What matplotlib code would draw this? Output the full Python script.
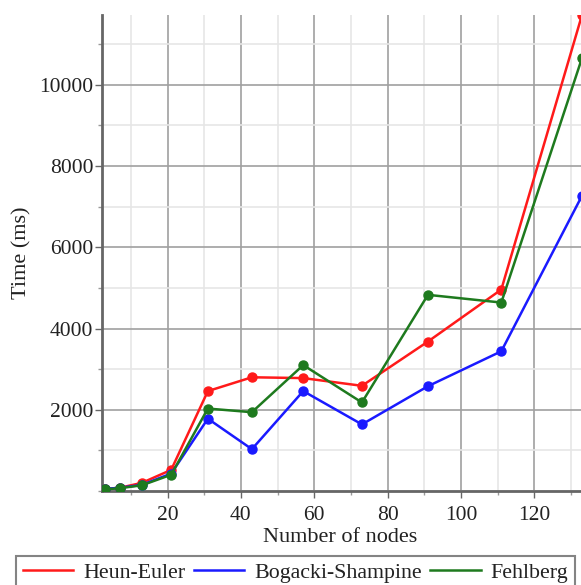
import matplotlib
matplotlib.use("Agg")
import matplotlib.pyplot as plt
from matplotlib.ticker import MultipleLocator
from matplotlib.lines import Line2D

nodes = [3, 7, 13, 21, 31, 43, 57, 73, 91, 111, 133]
heun_euler = [50, 80, 200, 520, 2460, 2800, 2780, 2590, 3680, 4960, 11720]
bogacki_shampine = [50, 80, 150, 430, 1780, 1030, 2460, 1640, 2580, 3440, 7270]
fehlberg = [40, 70, 140, 400, 2030, 1940, 3100, 2180, 4830, 4640, 10660]

series_names = ["Heun-Euler", "Bogacki-Shampine", "Fehlberg"]
colors = ["#ff1a1a", "#1a1aff", "#1e7a1e"]

plt.rcParams["font.family"] = ["Liberation Serif", "DejaVu Serif"]

W, H = 581, 585
fig = plt.figure(figsize=(W / 100, H / 100), dpi=100)
ax_w = 582 - 101.5
ax_h = 491 - 15
ax = fig.add_axes([101.5 / W, 94 / H, ax_w / W, ax_h / H])

for vals, name, c in zip([heun_euler, bogacki_shampine, fehlberg], series_names, colors):
    ax.plot(nodes, vals, color=c, lw=1.8, marker="o", ms=6.5, label=name,
            clip_on=True, zorder=3)

ax.set_xlim(2, 133)
ax.set_ylim(0, 11720)
ax.xaxis.set_minor_locator(MultipleLocator(10))
ax.yaxis.set_minor_locator(MultipleLocator(1000))
ax.set_xticks([20, 40, 60, 80, 100, 120])
ax.set_yticks([2000, 4000, 6000, 8000, 10000])

ax.grid(which="major", color="#a0a0a0", lw=1.2, zorder=0)
ax.grid(which="minor", color="#e6e6e6", lw=1.2, zorder=0)
ax.set_axisbelow(True)

for s in ["top", "right"]:
    ax.spines[s].set_visible(False)
for s in ["left", "bottom"]:
    ax.spines[s].set_color("#666666")
    ax.spines[s].set_linewidth(2)

ax.tick_params(which="major", length=5, width=1, color="#666666", labelsize=15.5,
               labelcolor="#222222")
ax.tick_params(axis="x", which="major", pad=6)
ax.tick_params(axis="y", which="major", pad=1)
ax.tick_params(which="minor", length=3, width=1, color="#999999")

ax.set_xlabel("Number of nodes", fontsize=16, color="#222222")
ax.set_ylabel("Time (ms)", fontsize=16, color="#222222")
ax.xaxis.set_label_coords((340 - 101.5) / ax_w, -(538 - 491) / ax_h)
ax.yaxis.set_label_coords((22 - 101.5) / ax_w, 0.5)
ax.xaxis.label.set_verticalalignment("center")
ax.yaxis.label.set_verticalalignment("center")

lh = [Line2D([], [], color=c, lw=1.8) for c in colors]
leg = fig.legend(lh, series_names, loc="upper center", ncol=3,
                 bbox_to_anchor=(295.5 / W, (H - 556) / H), fontsize=15.75,
                 frameon=True, fancybox=False, edgecolor="#666666",
                 handlelength=2.3, handletextpad=0.45, columnspacing=0.4,
                 borderpad=0.3, borderaxespad=0)
leg.get_frame().set_linewidth(1.5)
for t in leg.get_texts():
    t.set_color("#222222")

fig.savefig("out.png", dpi=100)
